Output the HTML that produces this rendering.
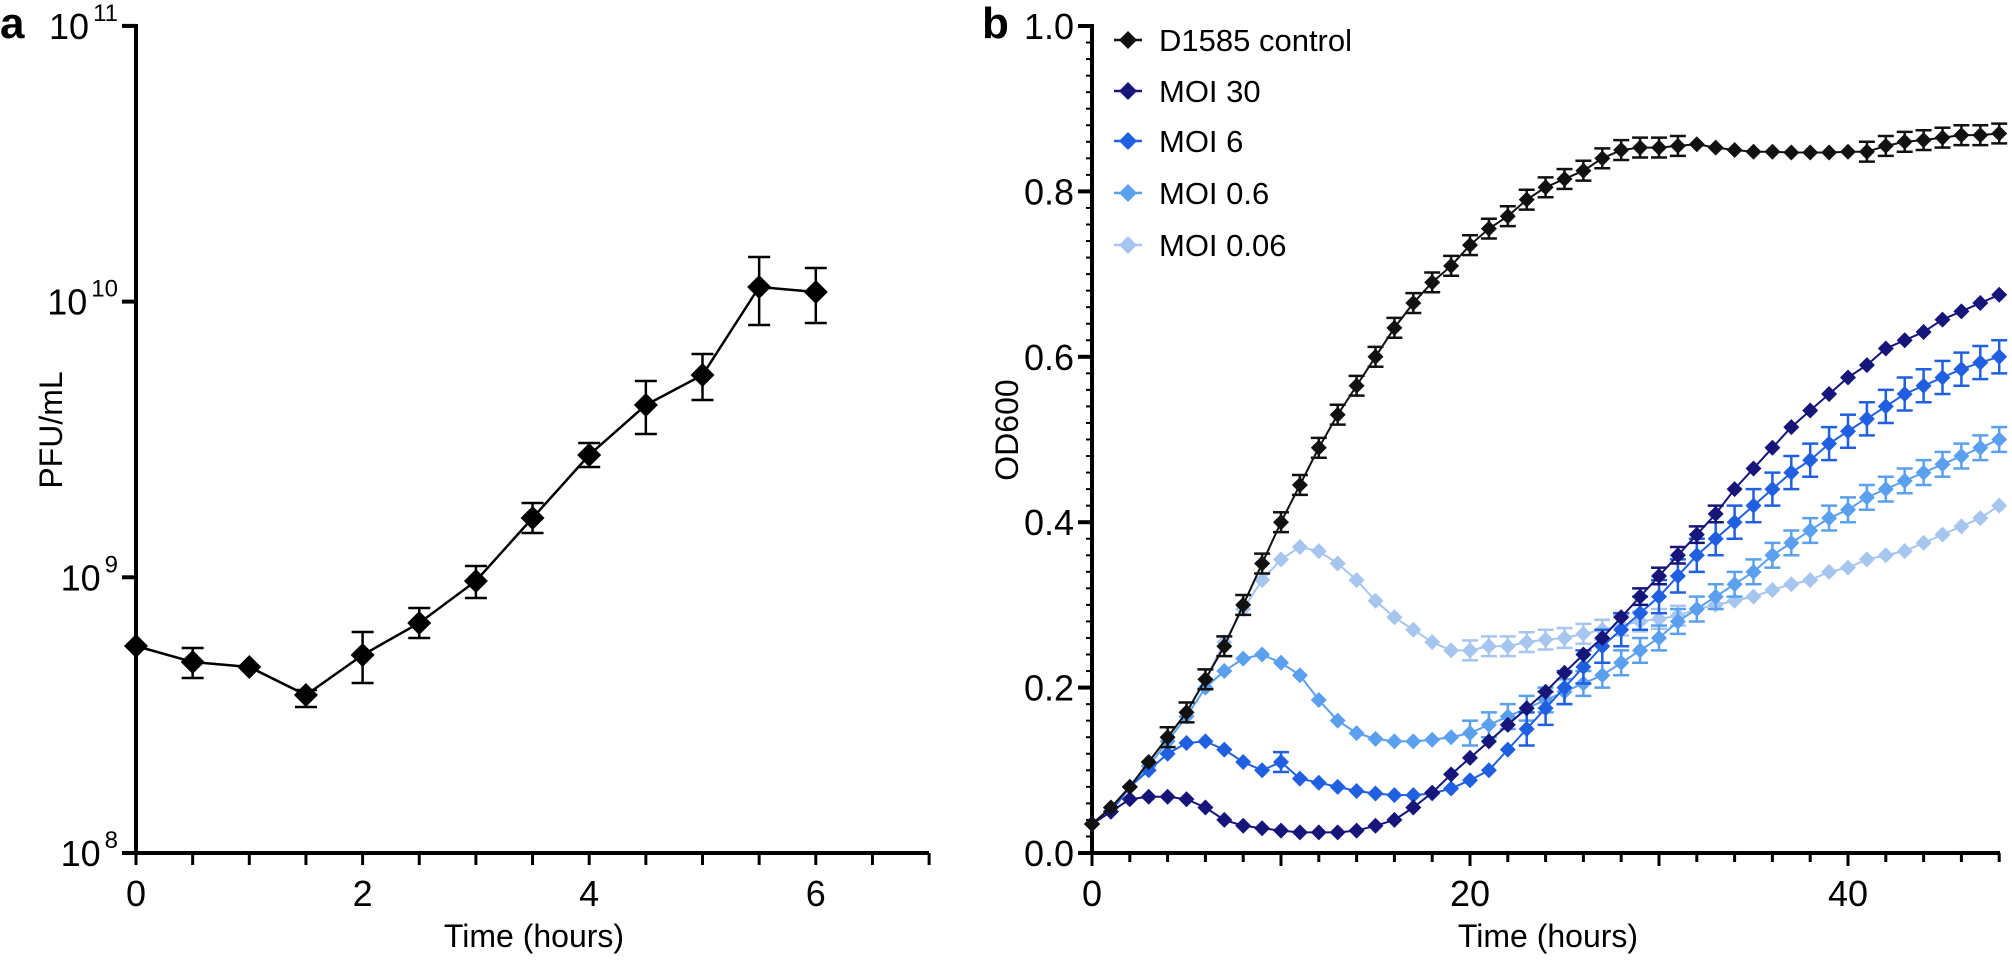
<!DOCTYPE html>
<html><head><meta charset="utf-8"><style>
html,body{margin:0;padding:0;background:#fff;}
svg{display:block;font-family:"Liberation Sans",Arial,sans-serif;}
</style></head><body>
<svg id="s" width="2012" height="964" viewBox="0 0 2012 964" xmlns="http://www.w3.org/2000/svg"></svg>
<script>
var s=document.getElementById('s'),h='';
function L(x1,y1,x2,y2,c,w){h+='<line x1="'+x1+'" y1="'+y1+'" x2="'+x2+'" y2="'+y2+'" stroke="'+c+'" stroke-width="'+w+'"/>';}
function D(x,y,r,c){h+='<polygon points="'+x+','+(y-r)+' '+(x+r)+','+y+' '+x+','+(y+r)+' '+(x-r)+','+y+'" fill="'+c+'"/>';}
function T(x,y,t,sz,anc,extra){h+='<text x="'+x+'" y="'+y+'" font-size="'+sz+'" text-anchor="'+(anc||'start')+'" '+(extra||'')+'>'+t+'</text>';}
// Panel a
var ax0=136,apx=113.3,ay=function(e){return 853-(e-8)*275.7;};
L(ax0,24,ax0,855,'#000',4);L(ax0-2,853,929,853,'#000',4);
for(var i=0;i<=14;i++){var x=ax0+i*apx/2;L(x,853,x,865,'#000',3);}
[8,9,10,11].forEach(function(e){var y=ay(e);L(ax0-14,y,ax0,y,'#000',4);
 h+='<text x="118" y="'+(y+13)+'" font-size="36" text-anchor="end">10<tspan font-size="24" dx="4" dy="-18">'+e+'</tspan></text>';});
[0,2,4,6].forEach(function(t){T(ax0+t*apx,906,t,36,'middle');});
T(534,947,'Time (hours)',32,'middle');
T(62,430,'PFU/mL',32,'middle','transform="rotate(-90 62 430)"');
h+='<text x="0" y="38" font-size="44" font-weight="bold">a</text>';
var ad=[[0,646],[0.5,662,648,678],[1,667],[1.5,695,690,707],[2,655,632,683],[2.5,623,608,638],[3,581,566,598],[3.5,518,503,533],[4,455,443,467],[4.5,405,381,434],[5,375,354,400],[5.5,287,257,325],[6,292,268,323]];
var p='';ad.forEach(function(d){p+=(ax0+d[0]*apx)+','+d[1]+' ';});
h+='<polyline points="'+p+'" fill="none" stroke="#000" stroke-width="2.5"/>';
ad.forEach(function(d){var x=ax0+d[0]*apx;if(d[2]){L(x,d[2],x,d[3],'#000',2.5);L(x-11,d[2],x+11,d[2],'#000',2.5);L(x-11,d[3],x+11,d[3],'#000',2.5);}D(x,d[1],12,'#000');});
// Panel b
var bx0=1092,bpx=18.9,by=function(v){return 853-v*827;};
L(bx0,24,bx0,855,'#000',4);L(bx0-2,853,2000,853,'#000',4);
for(var i=0;i<=48;i+=2){var x=bx0+i*bpx;L(x,853,x,i%10==0?866:862,'#000',3);}
for(var i=0;i<=50;i++){var y=by(i*0.02);L(bx0-(i%10==0?14:6),y,bx0,y,'#000',i%10==0?4:2);}
['0.0','0.2','0.4','0.6','0.8','1.0'].forEach(function(t,i){T(1074,by(i*0.2)+13,t,36,'end');});
[0,20,40].forEach(function(t){T(bx0+t*bpx,906,t,36,'middle');});
T(1548,947,'Time (hours)',32,'middle');
T(1018,430,'OD600',32,'middle','transform="rotate(-90 1018 430)"');
h+='<text x="982" y="38" font-size="44" font-weight="bold">b</text>';
var S=[
['#111111',[.035,.055,.08,.11,.14,.17,.21,.25,.30,.35,.40,.445,.49,.53,.565,.60,.635,.665,.69,.71,.735,.755,.77,.79,.805,.815,.825,.84,.85,.853,.853,.855,.857,.853,.85,.848,.848,.847,.847,.847,.848,.848,.855,.86,.862,.865,.868,.868,.87],function(i){return i<4?0:(i>=32&&i<=40?0:0.012);}],
['#15157a',[.035,.05,.065,.068,.068,.065,.055,.04,.033,.03,.027,.025,.025,.025,.027,.033,.04,.055,.073,.095,.115,.135,.155,.175,.195,.218,.24,.26,.285,.31,.335,.36,.385,.41,.44,.465,.49,.515,.535,.555,.575,.59,.61,.62,.63,.645,.655,.665,.675],function(i){return (i>=29&&i<=33)?0.01:0;}],
['#1f5fe0',[.035,.05,.08,.1,.12,.133,.135,.125,.11,.1,.11,.09,.085,.08,.075,.072,.07,.07,.072,.078,.088,.1,.125,.15,.175,.2,.225,.25,.27,.29,.31,.335,.36,.38,.4,.42,.44,.46,.475,.495,.51,.525,.54,.555,.565,.575,.585,.593,.6],function(i){return i==10?0.012:(i>=23?0.02:0);}],
['#5aa0ee',[.035,.05,.08,.105,.135,.165,.2,.22,.235,.24,.23,.215,.185,.16,.145,.138,.135,.135,.137,.14,.145,.155,.165,.175,.185,.195,.205,.215,.23,.245,.26,.28,.295,.31,.325,.34,.36,.375,.39,.405,.415,.43,.44,.45,.46,.47,.48,.49,.5],function(i){return i>=20?0.015:0;}],
['#a6c6f0',[.035,.05,.08,.11,.14,.17,.21,.255,.295,.33,.355,.37,.365,.35,.33,.305,.285,.27,.255,.245,.245,.25,.25,.255,.258,.26,.265,.27,.275,.28,.283,.287,.295,.3,.305,.31,.318,.325,.33,.34,.345,.355,.36,.365,.375,.385,.395,.405,.42],function(i){return (i>=20&&i<=31)?0.012:0;}]];
for(var k=S.length-1;k>=0;k--){var c=S[k][0],v=S[k][1],ef=S[k][2],p='';
 v.forEach(function(o,i){p+=(bx0+i*bpx)+','+by(o)+' ';});
 h+='<polyline points="'+p+'" fill="none" stroke="'+c+'" stroke-width="2"/>';
 v.forEach(function(o,i){var x=bx0+i*bpx,e=ef(i);if(e>0){var y1=by(o+e),y2=by(o-e);L(x,y1,x,y2,c,2.5);L(x-8,y1,x+8,y1,c,2.5);L(x-8,y2,x+8,y2,c,2.5);}D(x,by(o),8,c);});}
var lg=['D1585 control','MOI 30','MOI 6','MOI 0.6','MOI 0.06'],ly=[40,91,141,193,245];
lg.forEach(function(t,i){var c=S[i][0];L(1114,ly[i],1142,ly[i],c,2.5);D(1128,ly[i],9,c);T(1159,ly[i]+11,t,31);});
s.innerHTML=h;
</script>
</body></html>
